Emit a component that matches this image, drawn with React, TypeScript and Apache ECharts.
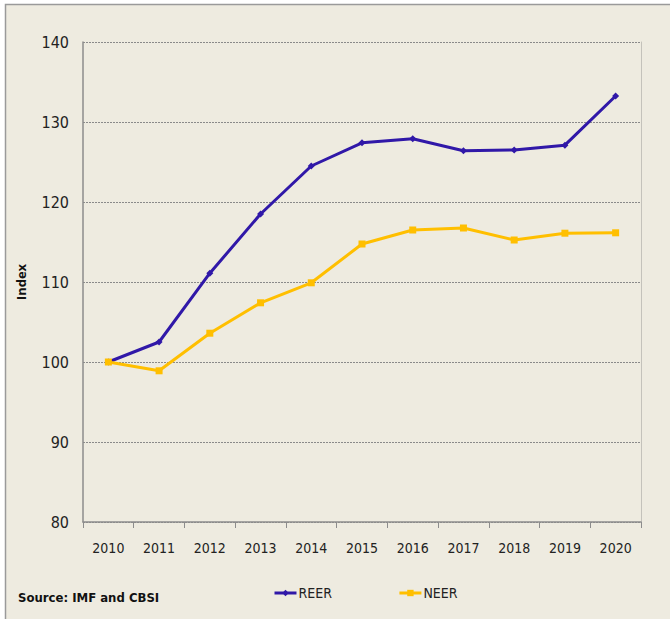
import React, { useEffect, useRef } from "react";
import * as echarts from "echarts";

const years = ["2010", "2011", "2012", "2013", "2014", "2015", "2016", "2017", "2018", "2019", "2020"];
const reer = [100, 102.5, 111.1, 118.5, 124.5, 127.4, 127.9, 126.4, 126.5, 127.1, 133.25];
const neer = [100, 98.9, 103.6, 107.4, 109.9, 114.75, 116.5, 116.75, 115.25, 116.1, 116.15];

const FONT = "'Liberation Sans Narrow', 'DejaVu Sans Condensed', 'Open Sans', sans-serif";

export default function App() {
  const ref = useRef<HTMLDivElement>(null);
  useEffect(() => {
    document.body.style.margin = "0";
    const chart = echarts.init(ref.current!, null, { renderer: "svg" });
    chart.setOption({
      animation: false,
      backgroundColor: "#ffffff",
      graphic: [
        {
          type: "rect",
          z: -10,
          silent: true,
          shape: { x: 5.5, y: 4.5, width: 700, height: 700 },
          style: { fill: "#eeebe0", stroke: "#9a9a9a", lineWidth: 1.5 },
        },
        {
          type: "text",
          left: 18,
          top: 591,
          style: { text: "Source: IMF and CBSI", font: "bold 13px " + FONT, fill: "#111" },
        },
      ],
      legend: {
        left: 268,
        top: 581,
        itemWidth: 22,
        itemHeight: 8,
        itemGap: 66,
        lineStyle: { width: 3 },
        textStyle: { fontFamily: FONT, fontSize: 14, color: "#222", padding: [0, 0, 0, -3] },
        data: [
          { name: "REER", itemStyle: { borderWidth: 0 } },
          { name: "NEER", itemStyle: { borderWidth: 0 } },
        ],
      },
      grid: { left: 83, top: 42, width: 558, height: 480, containLabel: false },
      xAxis: {
        type: "category",
        data: years,
        boundaryGap: true,
        axisLine: { lineStyle: { color: "#8c8c8c", width: 1.5 } },
        axisTick: { show: true, length: 6, lineStyle: { color: "#8c8c8c" } },
        axisLabel: { fontFamily: FONT, fontSize: 14, color: "#222", margin: 19 },
      },
      yAxis: [
        {
          type: "value",
          min: 80,
          max: 140,
          interval: 10,
          name: "Index",
          nameLocation: "middle",
          nameGap: 56,
          nameRotate: 90,
          nameTextStyle: { fontFamily: "'Open Sans', sans-serif", fontWeight: "bold", fontSize: 13, color: "#111" },
          axisLine: { show: true, lineStyle: { color: "#8c8c8c", width: 1.5 } },
          axisTick: { show: false },
          axisLabel: { fontFamily: FONT, fontSize: 16, color: "#222", margin: 14 },
          splitLine: { show: true, lineStyle: { color: "#8a8a8a", type: [2, 1], width: 1 } },
        },
        {
          type: "value",
          min: 80,
          max: 140,
          interval: 10,
          position: "right",
          axisLine: { show: true, lineStyle: { color: "#c4c2bb", width: 1 } },
          axisTick: { show: false },
          axisLabel: { show: false },
          splitLine: { show: false },
        },
      ],
      series: [
        {
          name: "REER",
          type: "line",
          data: reer,
          symbol: "diamond",
          symbolSize: 7,
          color: "#3018a8",
          lineStyle: { width: 3, color: "#3018a8" },
          itemStyle: { color: "#3018a8" },
        },
        {
          name: "NEER",
          type: "line",
          data: neer,
          symbol: "rect",
          symbolSize: 7,
          color: "#ffbf00",
          lineStyle: { width: 3, color: "#ffbf00" },
          itemStyle: { color: "#ffbf00" },
        },
      ],
    });
    return () => chart.dispose();
  }, []);
  return <div ref={ref} style={{ width: 670, height: 619 }} />;
}
